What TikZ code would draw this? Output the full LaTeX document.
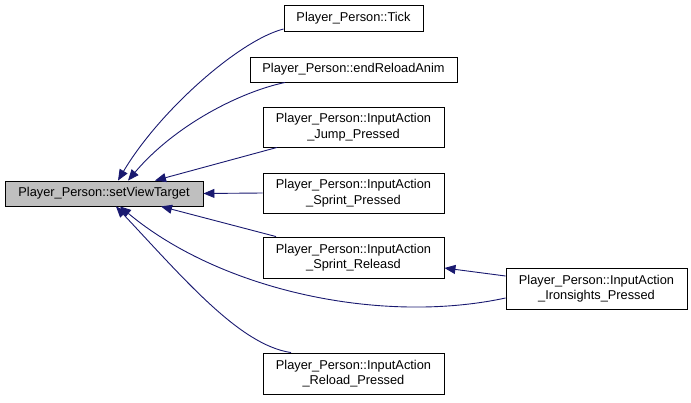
\documentclass[tikz,border=0pt]{standalone}
\usepackage{fontspec}
\setmainfont{Liberation Sans}
\usetikzlibrary{arrows.meta}
\begin{document}
\begin{tikzpicture}[x=1pt, y=-1pt,
    fn/.style={draw=black, fill=white, align=center, inner sep=0pt, minimum height=26,
      line width=0.9pt, font=\fontsize{12.8}{15.5}\selectfont},
    call/.style={draw=my-navy, line width=0.9pt, -{Triangle[length=11,width=9]}}]
    \definecolor{my-navy}{rgb}{0.10,0.10,0.44}
    \definecolor{my-gray}{rgb}{0.75,0.75,0.75}
    \useasboundingbox (0,0) rectangle (691,402);
    \node[fn, fill=my-gray, minimum width=198, minimum height=25] (setview) at (104,193.5) {Player\_Person::setViewTarget};
    \node[fn, minimum width=139] (tick) at (353.5,18) {Player\_Person::Tick};
    \node[fn, minimum width=207, minimum height=25] (reloadanim) at (353.5,69.5) {Player\_Person::endReloadAnim};
    \node[fn, minimum width=181, minimum height=40] (jump) at (353.5,127) {Player\_Person::InputAction\\\_Jump\_Pressed};
    \node[fn, minimum width=181, minimum height=40] (sprintp) at (353.5,193) {Player\_Person::InputAction\\\_Sprint\_Pressed};
    \node[fn, minimum width=181, minimum height=41] (sprintr) at (353.5,257.5) {Player\_Person::InputAction\\\_Sprint\_Releasd};
    \node[fn, minimum width=181, minimum height=41] (iron) at (596.5,288.5) {Player\_Person::InputAction\\\_Ironsights\_Pressed};
    \node[fn, minimum width=181, minimum height=41] (reload) at (353.5,373.5) {Player\_Person::InputAction\\\_Reload\_Pressed};
    \draw[call] ([yshift=-11]tick.west) .. controls (240,40) and (160,110) .. ([xshift=14]setview.north);
    \draw[call] ([xshift=-68.5]reloadanim.south) .. controls (240,92) and (175,125) .. ([xshift=24]setview.north);
    \draw[call] ([xshift=-76.5]jump.south) -- ([xshift=51]setview.north);
    \draw[call] (sprintp.west) -- (setview.east);
    \draw[call] ([xshift=-77.5]sprintr.north) -- ([xshift=57]setview.south);
    \draw[call] ([yshift=-9.5]iron.west) .. controls (380,325) and (220,290) .. ([xshift=16]setview.south);
    \draw[call] ([xshift=-62.5]reload.north) .. controls (240,345) and (185,280) .. ([xshift=12]setview.south);
    \draw[call] ([yshift=12.5]iron.west) -- ([yshift=-10.5]sprintr.east);
  \end{tikzpicture}
\end{document}
